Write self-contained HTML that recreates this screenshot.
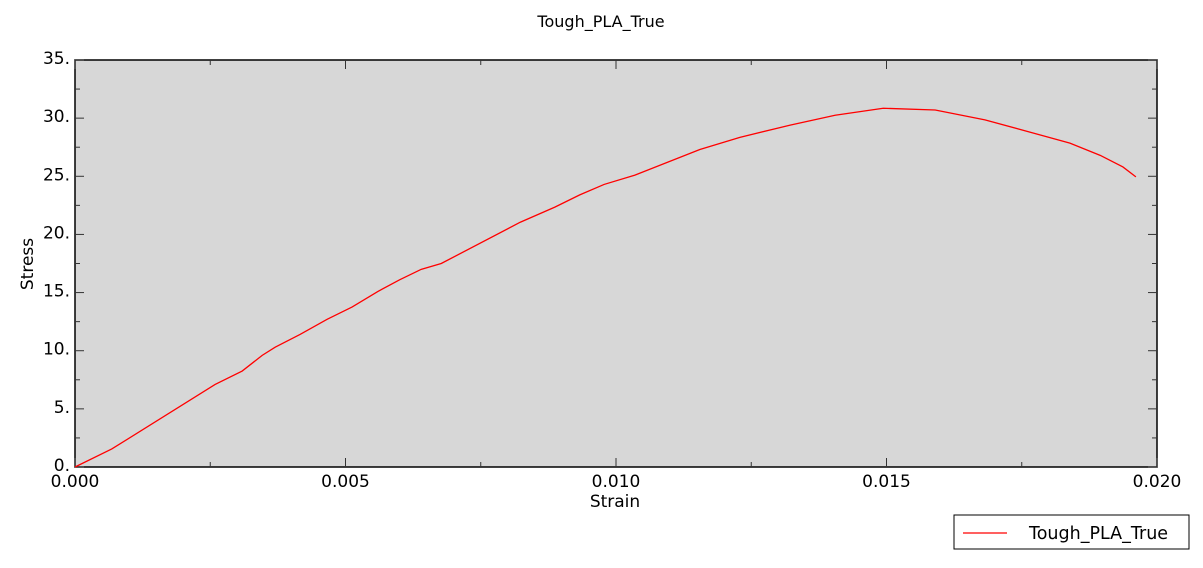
<!DOCTYPE html>
<html><head><meta charset="utf-8"><style>
body{margin:0;background:#fff;font-family:"DejaVu Sans","Liberation Sans",sans-serif;}
svg text{font-family:"DejaVu Sans","Liberation Sans",sans-serif;fill:#000;}
</style></head><body>
<svg id="chart" width="1203" height="564">
<text x="601" y="27" font-size="16" text-anchor="middle">Tough_PLA_True</text>
<rect x="75" y="60" width="1082" height="407" fill="#d7d7d7" stroke="#000" stroke-width="1.5"/>
<g id="ticks"></g>
<text x="615" y="507" font-size="17" text-anchor="middle">Strain</text>
<text x="33" y="264" font-size="17" text-anchor="middle" transform="rotate(-90 33 264)" fill="#333">Stress</text>
<polyline id="series" fill="none" stroke="#ff0000" stroke-width="1.3"/>
<g>
<rect x="954" y="515" width="235" height="34" fill="#fff" stroke="#000" stroke-width="1"/>
<line x1="963" y1="533" x2="1007" y2="533" stroke="#ff0000" stroke-width="1.3"/>
<text x="1029" y="539" font-size="17.5">Tough_PLA_True</text>
</g>
</svg>
<script>
const strain=[0,0.00068,0.00259,0.00309,0.00346,0.0037,0.00416,0.00466,0.00512,0.0056,0.006,0.0064,0.00677,0.00823,0.00887,0.00933,0.00978,0.01035,0.01155,0.01229,0.01322,0.01405,0.01494,0.0159,0.01682,0.01765,0.01839,0.01895,0.01937,0.01961];
const stress=[0,1.55,7.1,8.25,9.6,10.3,11.4,12.7,13.75,15.1,16.1,17.0,17.5,21.05,22.35,23.4,24.3,25.1,27.3,28.35,29.4,30.25,30.85,30.7,29.85,28.8,27.85,26.8,25.8,24.95];
const xTicks=[0,0.005,0.010,0.015,0.020];
const xTickLabels=["0.000","0.005","0.010","0.015","0.020"];
const yTicks=[0,5,10,15,20,25,30,35];
const yTickLabels=["0.","5.","10.","15.","20.","25.","30.","35."];
const X0=75,X1=1157,Y0=467,Y1=60;
const sx=v=>X0+v/0.02*(X1-X0);
const sy=v=>Y0-v/35*(Y0-Y1);
const NS="http://www.w3.org/2000/svg";
const g=document.getElementById('ticks');
function ln(x1,y1,x2,y2){const l=document.createElementNS(NS,'line');l.setAttribute('x1',x1);l.setAttribute('y1',y1);l.setAttribute('x2',x2);l.setAttribute('y2',y2);l.setAttribute('stroke','#333');l.setAttribute('stroke-width','1');


g.appendChild(l);}
for(let v=0;v<=0.02001;v+=0.0025){const x=sx(v);const major=Math.abs(v/0.005-Math.round(v/0.005))<1e-6;const len=major?9:5;ln(x,Y0,x,Y0-len);ln(x,Y1,x,Y1+len);}
for(let v=0;v<=35.01;v+=2.5){const y=sy(v);const major=Math.abs(v/5-Math.round(v/5))<1e-6;const len=major?9:5;ln(X0,y,X0+len,y);ln(X1,y,X1-len,y);}
xTicks.forEach((v,i)=>{const t=document.createElementNS(NS,'text');t.setAttribute('x',sx(v));t.setAttribute('y',Y0+20);t.setAttribute('font-size','17');t.setAttribute('text-anchor','middle');t.textContent=xTickLabels[i];


g.appendChild(t);});
yTicks.forEach((v,i)=>{const t=document.createElementNS(NS,'text');t.setAttribute('x',X0-5);t.setAttribute('y',sy(v)+4);t.setAttribute('font-size','17');t.setAttribute('text-anchor','end');t.textContent=yTickLabels[i];


g.appendChild(t);});
document.getElementById('series').setAttribute('points',strain.map((s,i)=>sx(s)+','+sy(stress[i])).join(' '));
</script>
</body></html>
